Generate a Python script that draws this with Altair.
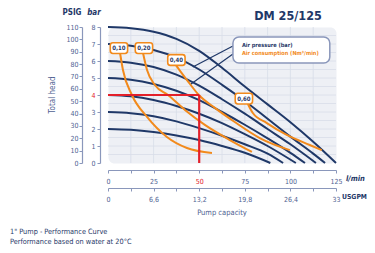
import json
import altair as alt
import pandas as pd

# ---------------- data ----------------
# Air pressure curves: flow (l/min) and total head (bar)
p8_q = [0, 12.5, 25, 37.5, 50, 62.5, 75, 87.5, 100, 112.5, 125]
p8_h = [8.0, 7.93, 7.72, 7.3, 6.6, 5.6, 4.5, 3.45, 2.4, 1.25, 0]
p7_q = [0, 12.5, 25, 37.5, 50, 62.5, 75, 87.5, 100, 112.5, 119]
p7_h = [7.0, 6.9, 6.65, 6.2, 5.5, 4.6, 3.65, 2.6, 1.55, 0.55, 0]
p6_q = [0, 12.5, 25, 37.5, 50, 62.5, 75, 87.5, 100, 114]
p6_h = [6.0, 5.9, 5.65, 5.2, 4.55, 3.75, 2.9, 2.0, 1.1, 0]
p5_q = [0, 12.5, 25, 37.5, 50, 62.5, 75, 87.5, 100, 108]
p5_h = [5.0, 4.9, 4.65, 4.25, 3.7, 3.0, 2.25, 1.45, 0.6, 0]
p4_q = [0, 12.5, 25, 37.5, 50, 62.5, 75, 87.5, 103]
p4_h = [4.0, 3.92, 3.7, 3.35, 2.9, 2.35, 1.7, 1.0, 0]
p3_q = [0, 12.5, 25, 37.5, 50, 62.5, 75, 87.5, 96]
p3_h = [3.0, 2.93, 2.75, 2.45, 2.05, 1.6, 1.1, 0.55, 0]
p2_q = [0, 12.5, 25, 37.5, 50, 62.5, 75, 89]
p2_h = [2.0, 1.95, 1.82, 1.62, 1.35, 1.0, 0.6, 0]

# Air consumption curves (Nm3/min)
c010_q = [6.6, 8.2, 13.1, 21.4, 32.3, 43.3, 57.0]
c010_h = [6.47, 5.47, 4.0, 2.71, 1.53, 0.88, 0.59]
c020_q = [19.2, 21.4, 25.7, 32.9, 42.2, 53.1, 66.8, 78.9]
c020_h = [6.47, 5.47, 4.59, 4.0, 3.12, 2.24, 1.35, 0.65]
c040_q = [37.2, 40.0, 43.3, 49.8, 58.6, 69.5, 83.2, 99.7]
c040_h = [5.76, 5.35, 4.88, 4.0, 3.24, 2.41, 1.47, 0.76]
c060_q = [76.7, 79.4, 87.1, 98.0, 110.6, 117.2]
c060_h = [3.47, 2.94, 2.35, 1.65, 1.06, 0.76]

# consumption labels
lab_text = ["0,10", "0,20", "0,40", "0,60"]
lab_q = [6.0, 19.7, 37.5, 74.5]
lab_h = [6.76, 6.76, 6.06, 3.79]

# duty point (50 l/min at 4 bar)
duty_q = 50
duty_h = 4

# legend box and leader lines (data coordinates)
legend_box = dict(q=68.5, q2=121.6, h=7.41, h2=5.88)
legend_lines_q = [68.5, 68.5]
legend_lines_h = [6.88, 6.41]
legend_lines_q2 = [46.5, 45.5]
legend_lines_h2 = [5.65, 4.65]
legend_text = ["Air pressure (bar)", "Air consumption (Nm³/min)"]
legend_text_q = [73.4, 73.4]
legend_text_h = [6.94, 6.47]

# axes ticks
lmin_ticks = [0, 12.5, 25, 37.5, 50, 62.5, 75, 87.5, 100, 112.5, 125]
lmin_major = [0, 25, 50, 75, 100, 125]
lmin_labels = ["0", "25", "50", "75", "100", "125"]
usgpm_ticks = [0, 3.3, 6.6, 9.9, 13.2, 16.5, 19.8, 23.1, 26.4, 29.7, 33]
usgpm_major = [0, 6.6, 13.2, 19.8, 26.4, 33]
usgpm_labels = ["0", "6,6", "13,2", "19,8", "26,4", "33"]
bar_ticks = [0, 1, 2, 3, 4, 5, 6, 7, 8]
psig_ticks = [0, 10, 20, 30, 40, 50, 60, 70, 80, 90, 100, 110]
grid_q = [12.5, 25, 37.5, 50, 62.5, 75, 87.5, 100, 112.5]
grid_h = [0.5 * i for i in range(1, 16)]

# ---------------- styles ----------------
NAVY = "#1f3868"
ORANGE = "#f28a1c"
RED = "#e3202a"
LAB = "#4f5f92"
AXIS = "#8a97bb"
FONT = "Liberation Sans Narrow, DejaVu Sans Condensed, Liberation Sans, sans-serif"
W, H = 228, 136

# ---------------- frames ----------------
press = pd.concat([
    pd.DataFrame({"q": q, "h": h, "p": name})
    for name, q, h in [("8", p8_q, p8_h), ("7", p7_q, p7_h), ("6", p6_q, p6_h),
                       ("5", p5_q, p5_h), ("4", p4_q, p4_h), ("3", p3_q, p3_h),
                       ("2", p2_q, p2_h)]
])
cons = pd.concat([
    pd.DataFrame({"q": q, "h": h, "c": name})
    for name, q, h in [("0.10", c010_q, c010_h), ("0.20", c020_q, c020_h),
                       ("0.40", c040_q, c040_h), ("0.60", c060_q, c060_h)]
])
labels = pd.DataFrame({"t": lab_text, "q": lab_q, "h": lab_h})
red = pd.DataFrame({"q": [0, duty_q], "q2": [duty_q, duty_q],
                    "h": [duty_h, duty_h], "h2": [duty_h, 0]})
leaders = pd.DataFrame({"q": legend_lines_q, "h": legend_lines_h,
                        "q2": legend_lines_q2, "h2": legend_lines_h2})
leg_txt = pd.DataFrame({"t": legend_text, "q": legend_text_q, "h": legend_text_h,
                        "k": ["p", "c"]})
gq = pd.DataFrame({"q": grid_q})
gh = pd.DataFrame({"h": grid_h})

xs = alt.Scale(domain=[0, 125], nice=False, zero=False)
ys = alt.Scale(domain=[0, 8], nice=False, zero=False)


def arr_expr(major, labs):
    return f"{json.dumps(labs)}[indexof({json.dumps(major)}, datum.value)] || ''"


x_axis = alt.Axis(values=lmin_ticks, labelExpr=arr_expr(lmin_major, lmin_labels),
                  offset=7, grid=False, domainColor=AXIS, tickColor=AXIS, tickSize=3,
                  labelColor=alt.condition("datum.value == 50", alt.value(RED), alt.value(LAB)),
                  labelFontSize=7, labelFont=FONT, labelPadding=4, title=None,
                  labelFlush=False, domainWidth=1.2)
y_axis = alt.Axis(values=bar_ticks, offset=8, grid=False, domainColor=AXIS,
                  tickColor=AXIS, tickSize=3, labelPadding=2,
                  labelColor=alt.condition("datum.value == 4", alt.value(RED), alt.value(LAB)),
                  labelFontSize=7, labelFont=FONT, title=None, domainWidth=1.2)

X = alt.X("q:Q", scale=xs, axis=x_axis)
Y = alt.Y("h:Q", scale=ys, axis=y_axis)

grid_v = alt.Chart(gq).mark_rule(color="#d8dde8", strokeWidth=0.8).encode(x=X)
grid_hz = alt.Chart(gh).mark_rule(color="#d8dde8", strokeWidth=0.8).encode(y=Y)

press_lines = alt.Chart(press).mark_line(color=NAVY, strokeWidth=2, interpolate="monotone").encode(
    x=X, y=Y, detail="p:N", order="q:Q")
cons_lines = alt.Chart(cons).mark_line(color=ORANGE, strokeWidth=2, interpolate="monotone").encode(
    x=X, y=Y, detail="c:N", order="q:Q")
red_lines = alt.Chart(red).mark_rule(color=RED, strokeWidth=2.2).encode(
    x=X, x2="q2:Q", y=Y, y2="h2:Q")
leader = alt.Chart(leaders).mark_rule(color=NAVY, strokeWidth=1.2).encode(
    x=X, x2="q2:Q", y=Y, y2="h2:Q")
box = alt.Chart(pd.DataFrame([legend_box])).mark_rect(
    fill="white", stroke=AXIS, strokeWidth=1.5, cornerRadius=6).encode(
    x=X, x2="q2:Q", y=Y, y2="h2:Q")
leg_text = alt.Chart(leg_txt).mark_text(align="left", baseline="middle", fontSize=5.6,
                                        font=FONT, fontWeight="bold").encode(
    x=X, y=Y, text="t:N",
    color=alt.Color("k:N", scale=alt.Scale(domain=["p", "c"], range=[NAVY, ORANGE]), legend=None))

RR = ("M-0.7,-0.62 L0.7,-0.62 Q1,-0.62 1,-0.32 L1,0.32 Q1,0.62 0.7,0.62 "
      "L-0.7,0.62 Q-1,0.62 -1,0.32 L-1,-0.32 Q-1,-0.62 -0.7,-0.62 Z")
lab_box = alt.Chart(labels).mark_point(shape=RR, size=300, filled=True, fill="white",
                                       stroke=ORANGE, strokeWidth=1.6, opacity=1).encode(x=X, y=Y)
lab_txt = alt.Chart(labels).mark_text(fontSize=6, font=FONT, color=NAVY, fontWeight="bold").encode(
    x=X, y=Y, text="t:N")

one = pd.DataFrame({"a": [0]})


def txt(text, x, y, **kw):
    return alt.Chart(one).mark_text(text=text, font=FONT, **kw).encode(
        x=alt.value(x), y=alt.value(y))


notes = [
    txt("DM 25/125", 180, -7, fontSize=12.5, fontWeight="bold", color=NAVY,
        baseline="alphabetic"),
    txt("PSIG", -36, -14, fontSize=8, fontWeight="bold", color=NAVY),
    txt("bar", -14, -14, fontSize=8, fontWeight="bold", fontStyle="italic", color=NAVY),
    txt("Total head", -55, 68, fontSize=8, angle=270, color=LAB),
    txt("l/min", 238, 152, fontSize=7.5, fontWeight="bold", fontStyle="italic",
        color=NAVY, align="left"),
    txt("USGPM", 234, 170, fontSize=6.8, fontWeight="bold", color=NAVY, align="left"),
    txt("Pump capacity", 114, 186, fontSize=7.5, color=LAB),
    txt('1" Pump - Performance Curve', -98, 205, fontSize=7.3, color=NAVY, align="left"),
    txt("Performance based on water at 20°C", -98, 215, fontSize=7.3, color=NAVY, align="left"),
]

main = alt.layer(grid_v, grid_hz, press_lines, cons_lines, red_lines, leader, box,
                 leg_text, lab_box, lab_txt, *notes)

psig_layer = alt.Chart(pd.DataFrame({"v": [0, 110]})).mark_point(opacity=0).encode(
    y=alt.Y("v:Q", scale=alt.Scale(domain=[0, 110], nice=False),
            axis=alt.Axis(orient="left", offset=26, values=psig_ticks, grid=False,
                          domainColor=AXIS, tickColor=AXIS, tickSize=3, labelPadding=1,
                          labelColor=LAB, labelFontSize=7, labelFont=FONT, title=None,
                          domainWidth=1.2)))

usgpm_layer = alt.Chart(pd.DataFrame({"u": [0, 33]})).mark_point(opacity=0).encode(
    x=alt.X("u:Q", scale=alt.Scale(domain=[0, 33], nice=False),
            axis=alt.Axis(orient="bottom", offset=25, values=usgpm_ticks,
                          labelExpr=arr_expr(usgpm_major, usgpm_labels), grid=False,
                          domainColor=AXIS, tickColor=AXIS, tickSize=3, labelPadding=4,
                          labelColor=LAB, labelFontSize=7, labelFont=FONT, title=None,
                          labelFlush=False, domainWidth=1.2)))

chart = alt.layer(main, psig_layer, usgpm_layer).resolve_scale(
    x="independent", y="independent"
).properties(
    width=W, height=H,
    padding={"left": 100, "top": 19, "right": 31, "bottom": 82},
    autosize=alt.AutoSizeParams(type="none"),
    background="white",
).configure_view(fill="#eef0f5", stroke="transparent", cornerRadius=6)

chart.save("out.html", embed_options={"renderer": "svg", "actions": False})
